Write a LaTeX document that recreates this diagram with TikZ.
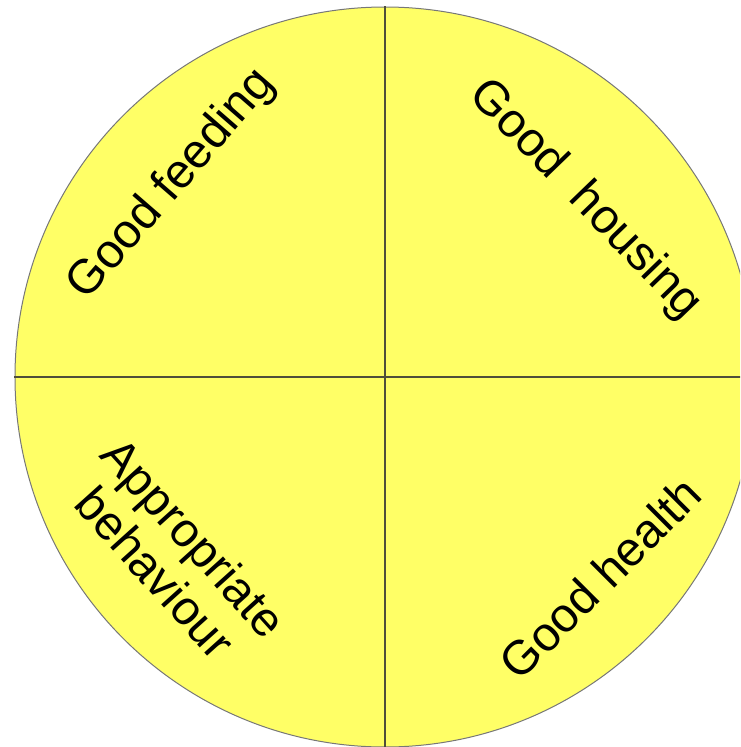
\documentclass[tikz,border=0pt]{standalone}
\usepackage{fontspec}
\setmainfont{Liberation Sans}
\usetikzlibrary{positioning}
\definecolor{disc}{HTML}{FFFF66}
\definecolor{rim}{HTML}{777777}
\definecolor{split}{HTML}{4F4F3A}
\tikzset{
  quarter/.style={font=\fontsize{48}{52}\selectfont,align=center,inner sep=0pt}
}

\begin{document}
\begin{tikzpicture}[x=1pt,y=1pt]
  % Frame
  \useasboundingbox (-385,-370) rectangle (355,377);
  \clip (-385,-370) rectangle (355,377);

  % Circle
  \node[circle,draw=rim,fill=disc,line width=1pt,minimum size=740pt,inner sep=0pt] (wheel) at (0,0) {};

  % Quarters
  \draw[split,line width=1.2pt] (wheel.north) -- (wheel.south);
  \draw[split,line width=1.2pt] (wheel.west) -- (wheel.east);

  % Labels
  \node[quarter,rotate=49] (feeding) at (-213,192) {Good feeding};
  \node[quarter,rotate=-46] (housing) at (200,177) {Good\ \ housing};
  \node[quarter,rotate=45] (health) at (215,-201) {Good health};
  \node[quarter,rotate=-48] (behaviour) at (-210,-178) {Appropriate\\behaviour};
\end{tikzpicture}
\end{document}
